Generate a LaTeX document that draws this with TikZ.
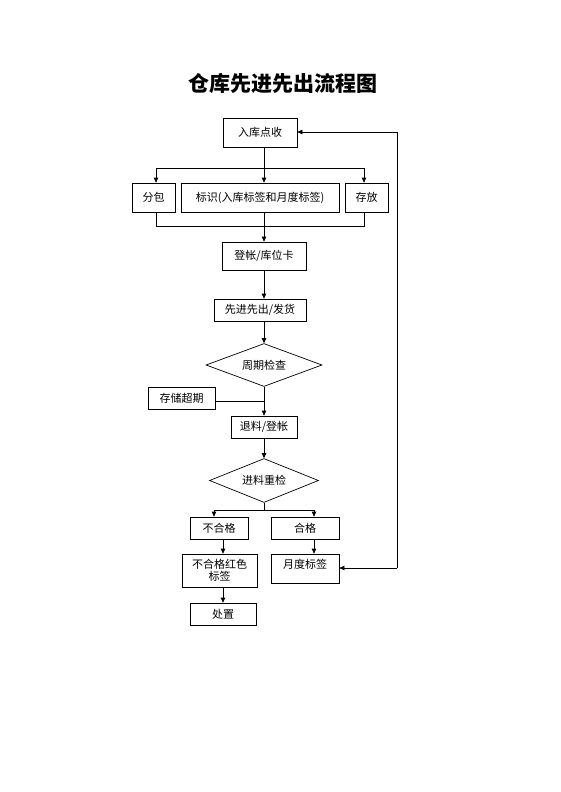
\documentclass[tikz,border=0pt]{standalone}
\usepackage{fontspec}
\setmainfont{Noto Sans CJK SC}
\usetikzlibrary{arrows.meta,shapes.geometric}
\begin{document}
\begin{tikzpicture}[x=1pt,y=-1pt,
  every node/.style={font=\fontsize{11}{12}\selectfont},
  box/.style={draw,rectangle,line width=0.7pt,inner sep=0pt},
  dia/.style={draw,diamond,aspect=2.7,line width=0.7pt,inner sep=0pt},
  ln/.style={line width=0.7pt},
  arr/.style={line width=0.7pt,-{Triangle[length=5pt,width=4.5pt]}}]
\useasboundingbox[fill=white] (0,0) rectangle (560,792);
\node[font=\fontsize{21}{24}\selectfont\bfseries] (title) at (283,83) {仓库先进先出流程图};
\node[box,minimum width=74pt,minimum height=29pt] (rk) at (260,132.5) {入库点收};
\node[box,minimum width=43pt,minimum height=29pt] (fb) at (153.5,197.5) {分包};
\node[box,minimum width=158pt,minimum height=29pt] (bs) at (260,197.5) {标识(入库标签和月度标签)};
\node[box,minimum width=43pt,minimum height=29pt] (cf) at (366.5,197.5) {存放};
\node[box,minimum width=84pt,minimum height=28pt] (dz) at (264,256) {登帐/库位卡};
\node[box,minimum width=92pt,minimum height=22pt] (xj) at (260,310) {先进先出/发货};
\node[dia,minimum width=116pt,minimum height=43pt] (d1) at (264,365) {周期检查};
\node[box,minimum width=67pt,minimum height=22pt] (cc) at (181.5,398) {存储超期};
\node[box,minimum width=66pt,minimum height=22pt] (tl) at (264,427) {退料/登帐};
\node[dia,minimum width=109pt,minimum height=44pt] (d2) at (264,480.5) {进料重检};
\node[box,minimum width=58pt,minimum height=22pt] (bh) at (219,528) {不合格};
\node[box,minimum width=68pt,minimum height=22pt] (hg) at (305,528) {合格};
\node[box,minimum width=75pt,minimum height=33pt,align=center] (bhr) at (219.5,570.5) {不合格红色\\标签};
\node[box,minimum width=68pt,minimum height=29pt] (yd) at (305,568.5) {};
\node (ydt) at (305,564) {月度标签};
\node[box,minimum width=66pt,minimum height=22pt] (cz) at (223,614) {处置};
% coordinates
\coordinate (m1) at (264,168);
\coordinate (l1) at (156,168);
\coordinate (r1) at (364,168);
\coordinate (l2) at (156,226);
\coordinate (r2) at (364,226);
\coordinate (mm) at (264,401);
\coordinate (s2) at (264,510);
\coordinate (l3) at (214,510);
\coordinate (r3) at (314,510);
\coordinate (fa) at (397,568);
\coordinate (fb2) at (397,132);
% connectors
\draw[arr] (rk.south -| m1) -- (bs.north -| m1);
\draw[ln] (l1) -- (r1);
\draw[arr] (l1) -- (fb.north -| l1);
\draw[arr] (r1) -- (cf.north -| r1);
\draw[ln] (fb.south -| l2) -- (l2) -- (r2) -- (cf.south -| r2);
\draw[arr] (bs.south -| dz.north) -- (dz.north);
\draw[arr] (dz.south) -- (xj.north -| dz.south);
\draw[arr] (xj.south -| d1.north) -- (d1.north);
\draw[arr] (d1.south) -- (tl.north);
\draw[ln] (cc.east |- mm) -- (mm);
\draw[arr] (tl.south) -- (d2.north);
\draw[ln] (d2.south) -- (s2);
\draw[ln] (l3) -- (r3);
\draw[arr] (l3) -- (bh.north -| l3);
\draw[arr] (r3) -- (hg.north -| r3);
\draw[arr] (bh.south -| cz.north) -- (bhr.north -| cz.north);
\draw[arr] (hg.south -| r3) -- (yd.north -| r3);
\draw[arr] (bhr.south -| cz.north) -- (cz.north);
\draw[arr] (fa) -- (yd.east |- fa);
\draw[arr] (fa) -- (fb2) -- (rk.east |- fb2);
\end{tikzpicture}
\end{document}
